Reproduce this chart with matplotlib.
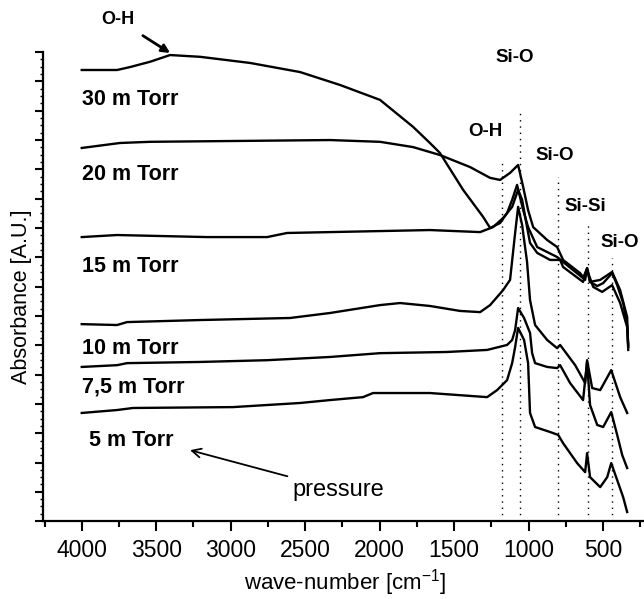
import matplotlib
matplotlib.use("Agg")
import matplotlib.pyplot as plt
from matplotlib.ticker import MultipleLocator, NullFormatter

plt.rcParams["font.family"] = ["Liberation Sans", "DejaVu Sans"]

# FTIR spectra, wavenumber (cm-1) vs absorbance (arbitrary, stacked)
wn_30 = [4000, 3763, 3676, 3542, 3407, 3206, 2870, 2535, 2267, 1998, 1776, 1663, 1596, 1440,
         1306, 1259, 1192, 1145, 1111, 1078, 1037, 1004, 943, 809, 769, 635, 608, 588, 540,
         500, 440, 406, 366, 339, 332]
ab_30 = [15.39, 15.39, 15.49, 15.67, 15.90, 15.84, 15.63, 15.32, 14.88, 14.37, 13.45, 12.90,
         12.56, 11.30, 10.38, 10.00, 10.17, 10.51, 10.96, 11.47, 10.61, 10.03, 9.35, 9.01, 8.84,
         8.29, 8.63, 8.16, 8.02, 8.12, 8.46, 8.05, 7.44, 6.69, 6.01]

wn_20 = [4000, 3743, 3542, 2334, 1998, 1776, 1596, 1394, 1259, 1192, 1125, 1071, 1037, 1004,
         970, 876, 809, 769, 655, 621, 608, 588, 520, 440, 386, 339, 332]
ab_20 = [12.73, 12.90, 12.94, 13.00, 12.94, 12.76, 12.49, 12.08, 11.71, 11.64, 11.88, 12.15,
         11.40, 10.61, 10.03, 9.59, 9.35, 8.91, 8.46, 8.23, 8.63, 8.16, 8.23, 8.50, 7.88, 6.96,
         5.84]

wn_15 = [4000, 3763, 3159, 2756, 2622, 2334, 1663, 1326, 1239, 1172, 1111, 1071, 1044, 1011,
         991, 943, 856, 789, 769, 635, 608, 567, 507, 440, 386, 339, 332]
ab_15 = [9.69, 9.76, 9.69, 9.69, 9.83, 9.86, 9.93, 9.86, 10.03, 10.34, 10.72, 11.30, 10.96,
         10.03, 9.49, 9.15, 8.91, 8.91, 8.67, 8.16, 8.57, 7.99, 7.82, 8.05, 7.44, 6.62, 5.94]

wn_10 = [4000, 3763, 3696, 3206, 2602, 2334, 1998, 1863, 1663, 1460, 1326, 1259, 1172, 1125,
         1091, 1071, 1044, 1011, 991, 957, 876, 809, 789, 688, 621, 608, 574, 520, 446, 386,
         339]
ab_10 = [6.72, 6.69, 6.79, 6.86, 6.93, 7.10, 7.37, 7.44, 7.34, 7.17, 7.13, 7.37, 7.88, 8.23,
         9.83, 10.72, 10.10, 8.84, 7.54, 6.69, 6.18, 5.90, 6.01, 5.32, 4.71, 5.49, 4.54, 4.47,
         5.15, 4.23, 3.69]

wn_7 = [4000, 3763, 3696, 3206, 2756, 2334, 1998, 1549, 1279, 1145, 1111, 1091, 1071, 1031,
        991, 977, 957, 876, 809, 789, 722, 635, 608, 588, 540, 500, 446, 406, 372, 339]
ab_7 = [5.26, 5.32, 5.39, 5.43, 5.49, 5.60, 5.73, 5.77, 5.84, 6.01, 6.18, 6.52, 7.27, 6.93,
        6.42, 5.73, 5.39, 5.26, 5.22, 5.32, 4.71, 4.13, 5.43, 3.96, 3.28, 3.21, 3.72, 2.94,
        2.25, 1.81]

wn_5 = [4000, 3763, 3656, 2985, 2535, 2334, 2112, 2045, 1663, 1279, 1212, 1145, 1111, 1091,
        1071, 1031, 1004, 991, 957, 856, 802, 769, 675, 621, 608, 588, 520, 473, 446, 406,
        366, 339]
ab_5 = [3.69, 3.79, 3.86, 3.89, 4.03, 4.13, 4.23, 4.37, 4.37, 4.23, 4.47, 4.81, 5.39, 5.94,
        6.59, 6.18, 5.39, 3.69, 3.21, 3.04, 2.94, 2.66, 1.98, 1.67, 2.32, 1.50, 1.16, 1.50,
        1.98, 1.40, 0.82, 0.31]

spectra = [(wn_30, ab_30), (wn_20, ab_20), (wn_15, ab_15),
           (wn_10, ab_10), (wn_7, ab_7), (wn_5, ab_5)]

pressure_labels = ["30 m Torr", "20 m Torr", "15 m Torr", "10 m Torr", "7,5 m Torr", "5 m Torr"]
label_x = [4000, 4000, 4000, 4000, 4000, 3953]
label_y = [14.37, 11.81, 8.67, 5.90, 4.57, 2.76]

# bond assignment lines: position, top of the dotted line
band_pos = [1180, 1060, 800, 600, 440]
band_top = [12.32, 14.03, 11.74, 10.2, 8.98]
band_names = ["O-H", "Si-O", "Si-O", "Si-Si", "Si-O"]
band_lx = [1294, 1091, 823, 621, 386]
band_ly = [13.28, 15.8, 12.49, 10.75, 9.52]

fig = plt.figure(figsize=(6.44, 5.99), dpi=100)
ax = fig.add_axes([0.0668, 0.130, 0.9332, 0.783])

for wn, ab in spectra:
    ax.plot(wn, ab, color="black", linewidth=1.7)

for xp, top in zip(band_pos, band_top):
    ax.plot([xp, xp], [0, top], color="black", linewidth=1.0, linestyle=(0, (1, 3.5)))

for name, lx, ly in zip(band_names, band_lx, band_ly):
    ax.text(lx, ly, name, fontsize=13.5, fontweight="bold", ha="center", va="center")

for lab, lx, ly in zip(pressure_labels, label_x, label_y):
    ax.text(lx, ly, lab, fontsize=15.5, fontweight="bold", ha="left", va="center")

# O-H band of the 30 mTorr film
ax.annotate("O-H", xy=(3407, 15.97), xytext=(3756, 17.1), fontsize=13, fontweight="bold",
            ha="center", va="center", annotation_clip=False,
            arrowprops=dict(arrowstyle="-|>", color="black", lw=2.0, mutation_scale=12,
                            shrinkA=6, shrinkB=0))

ax.annotate("pressure", xy=(3273, 2.42), xytext=(2583, 1.06), fontsize=17,
            ha="left", va="center",
            arrowprops=dict(arrowstyle="->", color="black", lw=1.3, mutation_scale=16,
                            shrinkA=2, shrinkB=0))

ax.set_xlim(4260, 226)
ax.set_ylim(0, 16)
ax.xaxis.set_major_locator(MultipleLocator(500))
ax.xaxis.set_minor_locator(MultipleLocator(250))
ax.yaxis.set_major_locator(MultipleLocator(1))
ax.yaxis.set_minor_locator(MultipleLocator(0.25))
ax.yaxis.set_major_formatter(NullFormatter())
ax.tick_params(axis="x", which="major", length=7, width=1.5, labelsize=16.5, pad=6)
ax.tick_params(axis="x", which="minor", length=4, width=1.5)
ax.tick_params(axis="y", which="major", length=6, width=1.5)
ax.tick_params(axis="y", which="minor", length=2, width=1.0)

for side in ["top", "right"]:
    ax.spines[side].set_visible(False)
for side in ["left", "bottom"]:
    ax.spines[side].set_linewidth(1.6)

fig.text(345 / 644, 1 - 583 / 599, "wave-number [cm$^{\\mathregular{-1}}$]", fontsize=16,
         ha="center", va="center")
fig.text(22 / 644, 1 - 297 / 599, "Absorbance [A.U.]", fontsize=15.5, rotation=90,
         ha="center", va="center")

fig.savefig("out.png", dpi=100)
